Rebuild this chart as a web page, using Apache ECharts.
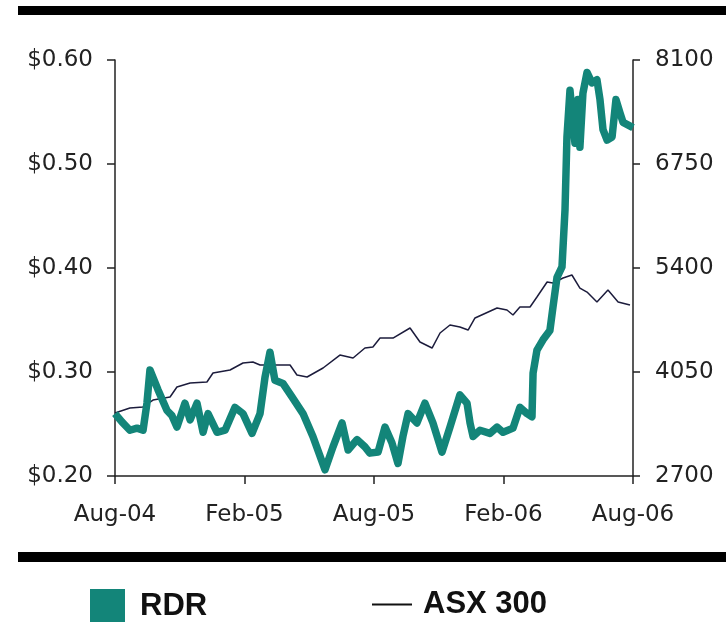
<!DOCTYPE html>
<html>
<head>
<meta charset="utf-8">
<script src="https://cdn.jsdelivr.net/npm/echarts@6/dist/echarts.min.js"></script>
<style>
  html, body { margin: 0; padding: 0; background: #fff; }
  #chart { width: 726px; height: 622px; }
</style>
</head>
<body>
<div id="chart"></div>
<script>
// x values are months after Aug-04
const monthLabels = ['Aug-04', 'Feb-05', 'Aug-05', 'Feb-06', 'Aug-06'];

const rdrMonth = [0, 0.32, 0.69, 1.02, 1.30, 1.48, 1.62, 1.99, 2.41, 2.64, 2.87, 3.24, 3.48, 3.80, 4.08,
  4.31, 4.73, 5.10, 5.56, 5.93, 6.35, 6.72, 6.95, 7.18, 7.41, 7.78, 8.20, 8.71, 9.17, 9.73,
  10.10, 10.52, 10.80, 11.21, 11.58, 11.81, 12.19, 12.51, 12.83, 13.11, 13.34, 13.58, 13.99, 14.36, 14.73,
  15.15, 15.52, 15.98, 16.31, 16.45, 16.59, 16.91, 17.37, 17.70, 17.98, 18.44, 18.76, 19.09, 19.32, 19.37,
  19.55, 19.83, 20.15, 20.29, 20.48, 20.71, 20.85, 20.94, 21.08, 21.31, 21.45, 21.54, 21.68, 21.87, 22.10,
  22.33, 22.47, 22.61, 22.80, 23.03, 23.21, 23.40, 23.54, 24.00];
const rdrPrice = [0.260, 0.252, 0.244, 0.246, 0.244, 0.270, 0.302, 0.283, 0.263, 0.258, 0.247, 0.270, 0.254, 0.270, 0.242,
  0.260, 0.242, 0.244, 0.266, 0.260, 0.241, 0.260, 0.295, 0.319, 0.292, 0.289, 0.276, 0.260, 0.238, 0.206,
  0.228, 0.251, 0.225, 0.235, 0.228, 0.222, 0.223, 0.247, 0.232, 0.212, 0.238, 0.260, 0.251, 0.270, 0.251,
  0.223, 0.247, 0.278, 0.270, 0.251, 0.238, 0.244, 0.241, 0.247, 0.242, 0.246, 0.266, 0.260, 0.257, 0.299,
  0.321, 0.331, 0.340, 0.362, 0.391, 0.401, 0.456, 0.526, 0.571, 0.520, 0.562, 0.516, 0.568, 0.588, 0.578,
  0.581, 0.562, 0.533, 0.523, 0.526, 0.562, 0.549, 0.540, 0.535];

const asxMonth = [0, 0.69, 1.30, 1.76, 2.55, 2.87, 3.48, 4.26, 4.54, 5.33, 5.93, 6.39, 6.72, 8.11, 8.43,
  8.90, 9.64, 10.42, 11.03, 11.58, 11.95, 12.28, 12.88, 13.67, 14.13, 14.69, 15.06, 15.52, 15.98, 16.36,
  16.68, 17.70, 18.16, 18.44, 18.76, 19.23, 19.55, 20.02, 20.29, 20.76, 21.17, 21.54, 21.87, 22.33, 22.84,
  23.31, 23.86];
const asxLevel = [3518, 3583, 3596, 3686, 3725, 3855, 3907, 3920, 4037, 4076, 4167, 4180, 4141, 4141, 4011,
  3985, 4102, 4270, 4232, 4361, 4374, 4491, 4491, 4621, 4439, 4361, 4556, 4660, 4634, 4595,
  4751, 4881, 4855, 4790, 4894, 4894, 5023, 5218, 5205, 5270, 5309, 5140, 5088, 4959, 5114,
  4959, 4920];

const teal = '#138579';
const axisFont = { fontFamily: 'DejaVu Sans', fontSize: 23, color: '#222' };
const legendFont = { fontFamily: 'Liberation Sans', fontWeight: 'bold', fontSize: 31, color: '#111' };

let myChart = echarts.init(document.getElementById('chart'));

let options = {
  animation: false,
  backgroundColor: '#fff',
  grid: { left: 115, right: 93, top: 60, bottom: 146 },
  xAxis: {
    type: 'value',
    min: 0, max: 24, interval: 6,
    splitLine: { show: false },
    axisLine: { lineStyle: { color: '#222', width: 1.5 } },
    axisTick: { length: 8, lineStyle: { color: '#222', width: 1.5 } },
    axisLabel: Object.assign({ margin: 28, formatter: function(v){ return monthLabels[v / 6]; } }, axisFont)
  },
  yAxis: [
    {
      type: 'value',
      min: 0.2, max: 0.6, interval: 0.1,
      splitLine: { show: false },
      axisLine: { show: true, lineStyle: { color: '#222', width: 1.5 } },
      axisTick: { show: true, length: 8, lineStyle: { color: '#222', width: 1.5 } },
      axisLabel: Object.assign({ margin: 22, formatter: function(v){ return '$' + v.toFixed(2); } }, axisFont)
    },
    {
      type: 'value',
      position: 'right',
      min: 2700, max: 8100, interval: 1350,
      splitLine: { show: false },
      axisLine: { show: true, lineStyle: { color: '#222', width: 1.5 } },
      axisTick: { show: true, length: 7, lineStyle: { color: '#222', width: 1.5 } },
      axisLabel: Object.assign({ margin: 22, formatter: function(v){ return String(Math.round(v)); } }, axisFont)
    }
  ],
  legend: [
    {
      data: [{ name: 'RDR', icon: 'rect' }],
      left: 85, top: 584,
      itemWidth: 35, itemHeight: 34,
      textStyle: Object.assign({ padding: [0, 0, 0, 10] }, legendFont)
    },
    {
      data: [{ name: 'ASX 300', icon: 'path://M0 0H40V2H0Z', itemStyle: { color: '#111' } }],
      left: 367, top: 584,
      itemWidth: 40, itemHeight: 2,
      textStyle: Object.assign({ padding: [0, 0, 0, 6] }, legendFont)
    }
  ],
  graphic: [
    { type: 'rect', shape: { x: 18, y: 6, width: 708, height: 9 }, style: { fill: '#000' } },
    { type: 'rect', shape: { x: 18, y: 552, width: 708, height: 10 }, style: { fill: '#000' } }
  ],
  series: [
    {
      name: 'ASX 300',
      type: 'line',
      yAxisIndex: 1,
      showSymbol: false,
      color: '#1c1c3c',
      lineStyle: { width: 1.5, color: '#1c1c3c' },
      data: asxMonth.map(function(m, i){ return [m, asxLevel[i]]; })
    },
    {
      name: 'RDR',
      type: 'line',
      yAxisIndex: 0,
      showSymbol: false,
      color: teal,
      lineStyle: { width: 7.5, color: teal, join: 'round' },
      data: rdrMonth.map(function(m, i){ return [m, rdrPrice[i]]; })
    }
  ]
};

myChart.setOption(options);
</script>
</body>
</html>
